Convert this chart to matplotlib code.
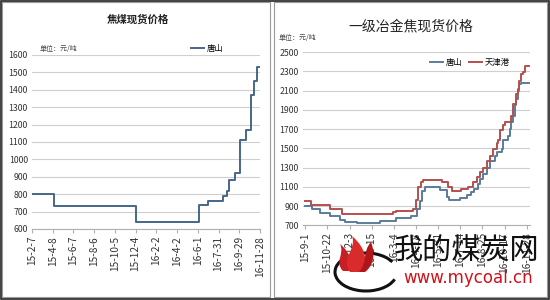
import numpy as np
import pandas as pd
import matplotlib
matplotlib.use("Agg")
import matplotlib.pyplot as plt
import matplotlib.dates as mdates
from matplotlib.patches import Rectangle, Arc, PathPatch
from matplotlib.path import Path

plt.rcParams['font.family'] = ['Noto Sans CJK SC', 'DejaVu Sans']

# ---------------- data ----------------
# Coking coal spot price, Tangshan (yuan/ton): dates where the price changes
coal_dates = ['2015-02-07', '2015-04-12', '2015-12-05', '2016-06-04', '2016-07-01',
              '2016-08-12', '2016-08-25', '2016-08-31', '2016-09-17', '2016-10-01',
              '2016-10-19', '2016-11-02', '2016-11-10', '2016-11-19']
coal_tangshan = [800, 730, 640, 740, 760, 790, 820, 880, 920, 1110, 1170, 1370, 1450, 1530]
coal_last_date = '2016-11-28'
coal_tick_labels = ['15-2-7', '15-4-8', '15-6-7', '15-8-6', '15-10-5', '15-12-4',
                    '16-2-2', '16-4-2', '16-6-1', '16-7-31', '16-9-29', '16-11-28']

# First-grade metallurgical coke spot price (yuan/ton)
coke_ts_dates = ['2015-09-01', '2015-09-16', '2015-10-06', '2015-10-27', '2015-11-15',
                 '2015-11-25', '2015-12-17', '2016-02-03', '2016-03-08', '2016-04-08',
                 '2016-04-20', '2016-04-25', '2016-04-29', '2016-05-05', '2016-06-03',
                 '2016-06-17', '2016-06-21', '2016-07-13', '2016-07-26', '2016-08-04',
                 '2016-08-10', '2016-08-16', '2016-08-20', '2016-08-27', '2016-09-04',
                 '2016-09-12', '2016-09-24', '2016-09-28', '2016-10-10', '2016-10-14',
                 '2016-10-24', '2016-10-27', '2016-10-30', '2016-11-02', '2016-11-05',
                 '2016-11-08', '2016-11-11', '2016-11-14', '2016-11-18']
coke_tangshan = [900, 870, 830, 800, 750, 730, 720, 745, 775, 800,
                 870, 950, 1060, 1100, 1070, 995, 960, 985, 1010, 1045,
                 1080, 1130, 1180, 1235, 1300, 1370, 1420, 1460, 1490, 1590,
                 1630, 1700, 1775, 1840, 1945, 2015, 2100, 2170, 2180]
coke_tj_dates = ['2015-09-01', '2015-09-14', '2015-10-27', '2015-11-18', '2016-03-02',
                 '2016-03-08', '2016-04-12', '2016-04-19', '2016-04-22', '2016-04-27',
                 '2016-05-01', '2016-06-07', '2016-06-20', '2016-06-27', '2016-07-16',
                 '2016-07-29', '2016-08-08', '2016-08-14', '2016-08-20', '2016-08-27',
                 '2016-09-04', '2016-09-12', '2016-09-19', '2016-09-28', '2016-10-02',
                 '2016-10-05', '2016-10-14', '2016-10-17', '2016-10-30', '2016-11-02',
                 '2016-11-03', '2016-11-08', '2016-11-11', '2016-11-14', '2016-11-18',
                 '2016-11-21', '2016-11-24']
coke_tianjin = [950, 910, 870, 820, 835, 845, 870, 960, 1100, 1150,
                1170, 1150, 1100, 1060, 1080, 1100, 1150, 1200, 1250, 1300,
                1370, 1420, 1490, 1560, 1590, 1685, 1740, 1775, 1840, 1895,
                1965, 2065, 2120, 2200, 2275, 2290, 2350]
coke_last_date = '2016-12-02'
coke_tick_labels = ['15-9-1', '15-10-22', '15-12-3', '16-1-15', '16-3-4', '16-4-18',
                    '16-5-31', '16-7-14', '16-8-25', '16-10-17', '16-11-28']

# ---------------- helpers ----------------
W, H = 550, 300


def fx(x):
    return x / W


def fy(y):
    return 1 - y / H


def label_to_date(s):
    return pd.Timestamp('20' + s)


def step_xy(dates, values, last):
    d = list(pd.to_datetime(dates)) + [pd.Timestamp(last)]
    v = list(values) + [values[-1]]
    return d, v


BLUE_L = '#46678a'
BLUE_R = '#5a7c9c'
RED_R = '#b4504e'
GRID = '#cfcfcf'
TXT = '#333333'

fig = plt.figure(figsize=(5.5, 3.0), dpi=100)
fig.patch.set_facecolor('white')

# panel frames
fig.add_artist(Rectangle((fx(2), fy(297)), fx(268), 295 / H, transform=fig.transFigure,
                         fill=False, ec='#9a9a9a', lw=0.8))
fig.add_artist(Rectangle((fx(274), fy(297)), fx(273), 295 / H, transform=fig.transFigure,
                         fill=False, ec='#9a9a9a', lw=0.8))
fig.add_artist(Rectangle((0.001, 0.002), 0.997, 0.995, transform=fig.transFigure,
                         fill=False, ec='#222222', lw=1.2))

# ---------------- left: coking coal ----------------
axL = fig.add_axes([fx(32), fy(229), fx(228), (229 - 55) / H])
d, v = step_xy(coal_dates, coal_tangshan, coal_last_date)
axL.step(d, v, where='post', color=BLUE_L, lw=1.4, label='唐山', zorder=3)
tick_dates = [label_to_date(s) for s in coal_tick_labels]
axL.set_xlim(tick_dates[0], tick_dates[-1])
axL.set_ylim(600, 1600)
axL.set_yticks(np.arange(600, 1601, 100))
axL.set_xticks(tick_dates)
axL.set_xticklabels(coal_tick_labels, rotation=90, fontsize=7.3, color=TXT)
axL.grid(axis='y', color=GRID, lw=0.8)
axL.set_axisbelow(True)
for s in ['top', 'right', 'left']:
    axL.spines[s].set_visible(False)
axL.spines['bottom'].set_color('#b0b0b0')
axL.tick_params(axis='y', length=0, labelsize=6.3, labelcolor=TXT, pad=3)
axL.tick_params(axis='x', length=3, color='#b0b0b0', pad=2)
axL.legend(loc='center', bbox_to_anchor=(fx(207), fy(48)), bbox_transform=fig.transFigure,
           frameon=False, fontsize=6, handlelength=1.6, handletextpad=0.3)

fig.text(fx(138), fy(20), '焦煤现货价格', ha='center', va='center', fontsize=7.5,
         fontweight='bold', color='#222222')
fig.text(fx(40), fy(49), '单位：元/吨', ha='left', va='center', fontsize=5, color='#444444')

# ---------------- right: metallurgical coke ----------------
tick_nums = np.array([mdates.date2num(label_to_date(s)) for s in coke_tick_labels])
tick_pos = np.arange(len(tick_nums), dtype=float)


def to_pos(dates):
    n = mdates.date2num(pd.to_datetime(dates))
    p = np.interp(n, tick_nums, tick_pos)
    over = n > tick_nums[-1]
    slope = 1.0 / (tick_nums[-1] - tick_nums[-2])
    p[over] = tick_pos[-1] + (n[over] - tick_nums[-1]) * slope
    return p


axR = fig.add_axes([fx(303), fy(225.3), fx(227), (225.3 - 52) / H])
d, v = step_xy(coke_ts_dates, coke_tangshan, coke_last_date)
axR.step(to_pos(d), v, where='post', color=BLUE_R, lw=1.4, label='唐山', zorder=3)
d, v = step_xy(coke_tj_dates, coke_tianjin, coke_last_date)
axR.step(to_pos(d), v, where='post', color=RED_R, lw=1.4, label='天津港', zorder=3)
axR.set_xlim(-0.1, 10.15)
axR.set_ylim(700, 2500)
axR.set_yticks(np.arange(700, 2501, 200))
axR.set_xticks(tick_pos)
axR.set_xticklabels(coke_tick_labels, rotation=90, fontsize=7.3, color=TXT)
axR.grid(axis='y', color=GRID, lw=0.8)
axR.set_axisbelow(True)
for s in ['top', 'right', 'left']:
    axR.spines[s].set_visible(False)
axR.spines['bottom'].set_color('#b0b0b0')
axR.tick_params(axis='y', length=0, labelsize=6.3, labelcolor=TXT, pad=3)
axR.tick_params(axis='x', length=3, color='#b0b0b0', pad=2)
axR.legend(loc='center', bbox_to_anchor=(fx(470), fy(62)), bbox_transform=fig.transFigure,
           frameon=False, fontsize=6, ncol=2, handlelength=1.6, handletextpad=0.3,
           columnspacing=0.8)

fig.text(fx(411), fy(26), '一级冶金焦现货价格', ha='center', va='center', fontsize=10,
         color='#222222')
fig.text(fx(279), fy(38), '单位：元/吨', ha='left', va='center', fontsize=5, color='#444444')

# ---------------- site mark ----------------
fig.add_artist(Arc((fx(366), fy(272)), fx(62), 38 / H, theta1=35, theta2=335,
                   transform=fig.transFigure, color='#111111', lw=2.2, zorder=10))


def flame(pts, color):
    verts = [(fx(x), fy(y)) for x, y in pts]
    codes = [Path.MOVETO] + [Path.CURVE4] * 6 + [Path.CLOSEPOLY]
    verts.append(verts[0])
    fig.add_artist(PathPatch(Path(verts, codes), transform=fig.transFigure,
                             fc=color, ec='none', zorder=11))


flame([(343, 271), (334, 262), (345, 254), (340, 244), (351, 253), (353, 264), (349, 271)], '#c81e24')
flame([(350, 272), (340, 258), (357, 250), (352, 236), (366, 248), (369, 262), (360, 272)], '#d92b2b')
flame([(359, 272), (368, 262), (362, 252), (371, 242), (376, 255), (373, 266), (365, 272)], '#b0151a')

fig.text(fx(467), fy(252), '我的煤炭网', ha='center', va='center', fontsize=21,
         color='#111111', zorder=12)
fig.text(fx(468), fy(278), 'www.mycoal.cn', ha='center', va='center', fontsize=12,
         color='#d0101a', family=['DejaVu Sans'], zorder=12)

fig.savefig('out.png', dpi=100)
